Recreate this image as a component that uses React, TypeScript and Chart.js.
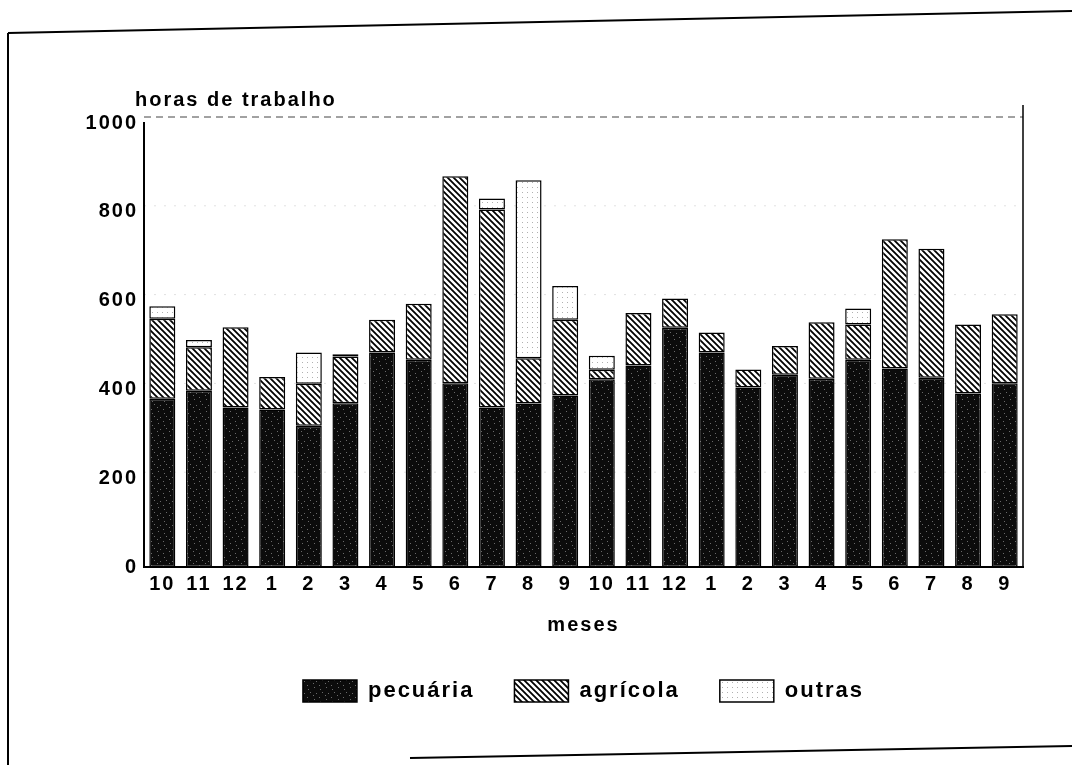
import React, { useEffect, useRef } from 'react';
import { Chart, registerables } from 'chart.js';

Chart.register(...registerables);

const months = ['10', '11', '12', '1', '2', '3', '4', '5', '6', '7', '8', '9', '10', '11', '12', '1', '2', '3', '4', '5', '6', '7', '8', '9'];
const pecuaria = [379, 397, 359, 355, 318, 369, 483, 467, 414, 359, 368, 386, 423, 454, 539, 483, 404, 433, 424, 467, 447, 426, 391, 414];
const agricola = [180, 98, 181, 73, 95, 105, 74, 126, 466, 446, 102, 171, 21, 118, 66, 45, 41, 65, 127, 79, 291, 291, 155, 155];
const outras = [28, 16, 0, 0, 70, 5, 0, 0, 0, 25, 401, 76, 32, 0, 0, 0, 0, 0, 0, 36, 0, 0, 0, 0];
const yTicks = [0, 200, 400, 600, 800, 1000];

const seriesNames = ['pecuária', 'agrícola', 'outras'];
const yTitle = 'horas de trabalho';
const xTitle = 'meses';

const FONT = "'Liberation Sans', Arial, sans-serif";
const SPACING = '2px';
const TEXT_FONT = { family: FONT, size: 20, weight: 'bold' as const };
const LEGEND_FONT = { family: FONT, size: 22, weight: 'bold' as const };

function makePattern(kind: string): CanvasPattern | string {
  const c = document.createElement('canvas');
  const ctx = c.getContext('2d');
  if (!ctx) return '#000';
  if (kind === 'dark') {
    c.width = 12; c.height = 12;
    ctx.fillStyle = '#0c0c0c';
    ctx.fillRect(0, 0, 12, 12);
    ctx.fillStyle = '#6a6a6a';
    const pts = [[2, 3], [7, 1], [10, 8], [4, 9], [8, 5], [1, 11]];
    pts.forEach(([x, y]) => ctx.fillRect(x, y, 1, 1));
  } else if (kind === 'hatch') {
    const s = 6;
    c.width = s; c.height = s;
    ctx.fillStyle = '#fff';
    ctx.fillRect(0, 0, s, s);
    ctx.strokeStyle = '#000';
    ctx.lineWidth = 1.8;
    ctx.beginPath();
    ctx.moveTo(-1, -1); ctx.lineTo(s + 1, s + 1);
    ctx.moveTo(-1, s - 1); ctx.lineTo(1, s + 1);
    ctx.moveTo(s - 1, -1); ctx.lineTo(s + 1, 1);
    ctx.stroke();
  } else {
    c.width = 5; c.height = 5;
    ctx.fillStyle = '#fff';
    ctx.fillRect(0, 0, 5, 5);
    ctx.fillStyle = '#b0b0b0';
    ctx.fillRect(2, 2, 1, 1);
  }
  return ctx.createPattern(c, 'repeat') || '#000';
}

const spacingPlugin = {
  id: 'spacing',
  beforeLayout(chart: any) { chart.ctx.letterSpacing = SPACING; },
  beforeDraw(chart: any) { chart.ctx.letterSpacing = SPACING; },
};

const framePlugin = {
  id: 'frame',
  beforeDatasetsDraw(chart: any) {
    const { ctx, chartArea } = chart;
    const y = chart.scales.y;
    ctx.save();
    yTicks.forEach((v) => {
      if (v === 0) return;
      const py = y.getPixelForValue(v);
      ctx.beginPath();
      if (v === 1000) {
        ctx.strokeStyle = '#444';
        ctx.lineWidth = 1;
        ctx.setLineDash([7, 5]);
      } else {
        ctx.strokeStyle = 'rgba(0,0,0,0.12)';
        ctx.lineWidth = 1;
        ctx.setLineDash([2, 8]);
      }
      ctx.moveTo(chartArea.left, py - 6);
      ctx.lineTo(chartArea.right, py - 6);
      ctx.stroke();
    });
    ctx.restore();
  },
  afterDraw(chart: any) {
    const { ctx, chartArea } = chart;
    ctx.save();
    ctx.strokeStyle = '#000';
    ctx.lineWidth = 2;
    ctx.setLineDash([]);
    ctx.beginPath();
    ctx.moveTo(8, 33); ctx.lineTo(8, 765);
    ctx.moveTo(8, 33); ctx.lineTo(1072, 11);
    ctx.moveTo(410, 758); ctx.lineTo(1072, 746);
    ctx.stroke();
    ctx.lineWidth = 1.5;
    ctx.beginPath();
    ctx.moveTo(chartArea.right, chartArea.top - 18);
    ctx.lineTo(chartArea.right, chartArea.bottom);
    ctx.stroke();
    ctx.letterSpacing = SPACING;
    ctx.fillStyle = '#000';
    ctx.font = `bold 20px ${FONT}`;
    ctx.textAlign = 'left';
    ctx.textBaseline = 'middle';
    ctx.fillText(yTitle, 135, 100);
    ctx.restore();
  },
};

export default function App() {
  const ref = useRef<HTMLCanvasElement | null>(null);

  useEffect(() => {
    if (!ref.current) return;
    const dark = makePattern('dark');
    const hatch = makePattern('hatch');
    const dots = makePattern('dots');
    const common = {
      borderColor: '#000',
      borderWidth: 1.5,
      borderSkipped: false as const,
      categoryPercentage: 1,
      barPercentage: 0.71,
    };
    const chart = new Chart(ref.current, {
      type: 'bar',
      data: {
        labels: months,
        datasets: [
          { label: seriesNames[0], data: pecuaria, backgroundColor: dark, ...common },
          { label: seriesNames[1], data: agricola, backgroundColor: hatch, ...common },
          { label: seriesNames[2], data: outras, backgroundColor: dots, ...common },
        ],
      },
      options: {
        responsive: false,
        animation: false,
        devicePixelRatio: 1,
        layout: { padding: { top: 123, right: 49, bottom: 53, left: 0 } },
        font: TEXT_FONT,
        plugins: {
          tooltip: { enabled: false },
          legend: {
            position: 'bottom',
            fullSize: false,
            labels: {
              boxWidth: 54,
              boxHeight: 22,
              padding: 40,
              color: '#000',
              font: LEGEND_FONT,
            },
          },
        },
        scales: {
          x: {
            stacked: true,
            grid: { display: false, drawTicks: false },
            border: { display: true, color: '#000', width: 2 },
            ticks: { color: '#000', font: TEXT_FONT, padding: 5, autoSkip: false, maxRotation: 0 },
            title: { display: true, text: xTitle, color: '#000', font: TEXT_FONT, padding: { top: 12, bottom: 3 } },
          },
          y: {
            stacked: true,
            min: 0,
            max: 1000,
            afterBuildTicks: (scale: any) => { scale.ticks = yTicks.map((v) => ({ value: v })); },
            afterFit: (scale: any) => { scale.width = 144; },
            grid: { display: false, drawTicks: false },
            border: { display: true, color: '#000', width: 2 },
            ticks: { color: '#000', font: TEXT_FONT, padding: 6, callback: (v: any) => String(v) },
          },
        },
      },
      plugins: [spacingPlugin, framePlugin],
    });
    return () => chart.destroy();
  }, []);

  return (
    <canvas
      ref={ref}
      width={1072}
      height={765}
      style={{ position: 'absolute', left: 0, top: 0, width: 1072, height: 765, background: '#fff' }}
    />
  );
}
